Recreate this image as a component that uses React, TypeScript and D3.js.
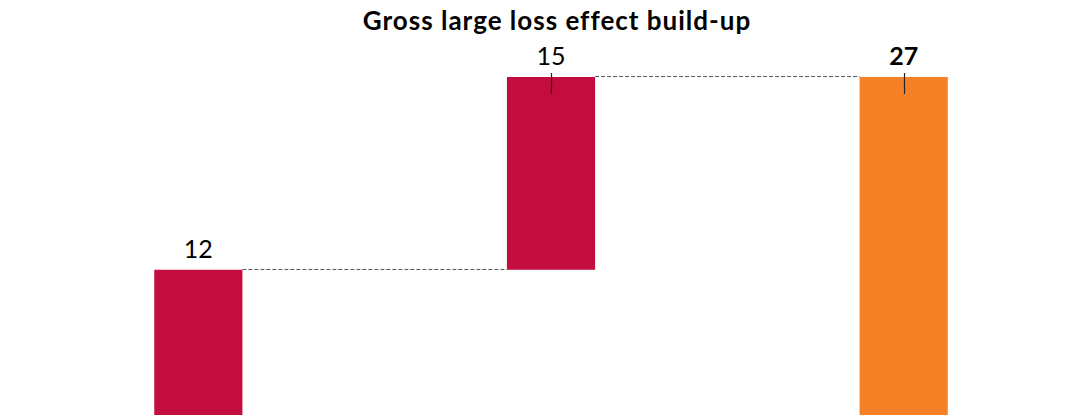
import * as d3 from 'd3'
import { useRef, useEffect } from 'react'

const categories = ['Step 1', 'Step 2', 'Total']
const deltas = [12, 15, 27]
const isTotal = [false, false, true]
const labels = ['12', '15', '27']
const showMarker = [false, true, true]

const W = 1091
const H = 415
const font = 'Lato, "Noto Sans", sans-serif'

const App = () => {
    const svgRef = useRef<SVGSVGElement | null>(null)

    useEffect(() => {
        document.body.style.margin = '0'
        const svg = d3.select(svgRef.current)
        svg.selectAll('*').remove()

        // running totals for the waterfall
        let run = 0
        const bars = categories.map((c, i) => {
            const start = isTotal[i] ? 0 : run
            const end = isTotal[i] ? deltas[i] : run + deltas[i]
            if (!isTotal[i]) run = end
            return { cat: c, start, end, label: labels[i], total: isTotal[i], marker: showMarker[i] }
        })

        const x = d3.scaleBand().domain(categories).range([22, 1080]).paddingInner(0.75).paddingOuter(0.375)
        const y = d3.scaleLinear().domain([0, 27]).range([424, 77])

        svg.append('text')
            .attr('x', 557)
            .attr('y', 30)
            .attr('text-anchor', 'middle')
            .style('font-family', font)
            .style('font-weight', 'bold')
            .style('font-size', '26px')
            .style('letter-spacing', '1px')
            .text('Gross large loss effect build-up')

        // connectors
        svg.append('g')
            .selectAll('line')
            .data(bars.slice(0, -1))
            .enter()
            .append('line')
            .attr('x1', d => x(d.cat)! + x.bandwidth())
            .attr('x2', (d, i) => x(bars[i + 1].cat)!)
            .attr('y1', d => Math.round(y(d.end)) - 0.5)
            .attr('y2', d => Math.round(y(d.end)) - 0.5)
            .attr('stroke', '#595959')
            .attr('stroke-width', 1)
            .attr('stroke-dasharray', '4,2')

        svg.append('g')
            .selectAll('rect')
            .data(bars)
            .enter()
            .append('rect')
            .attr('x', d => x(d.cat)!)
            .attr('width', x.bandwidth())
            .attr('y', d => y(Math.max(d.start, d.end)))
            .attr('height', d => Math.abs(y(d.start) - y(d.end)))
            .attr('fill', d => d.total ? '#F58026' : '#C30D3F')

        svg.append('g')
            .selectAll('line')
            .data(bars.filter(d => d.marker))
            .enter()
            .append('line')
            .attr('x1', d => Math.round(x(d.cat)! + x.bandwidth() / 2) + 0.5)
            .attr('x2', d => Math.round(x(d.cat)! + x.bandwidth() / 2) + 0.5)
            .attr('y1', d => y(d.end) - 4)
            .attr('y2', d => y(d.end) + 17)
            .attr('stroke', '#222')
            .attr('stroke-width', 1.2)

        svg.append('g')
            .selectAll('text')
            .data(bars)
            .enter()
            .append('text')
            .attr('x', d => x(d.cat)! + x.bandwidth() / 2)
            .attr('y', d => y(d.end) - 12)
            .attr('text-anchor', 'middle')
            .style('font-family', font)
            .style('font-size', '25px')
            .style('font-weight', d => d.total ? 'bold' : 'normal')
            .text(d => d.label)
    }, [])

    return (
        <svg ref={svgRef} width={W} height={H} style={{ display: 'block' }} />
    )
}

export default App
